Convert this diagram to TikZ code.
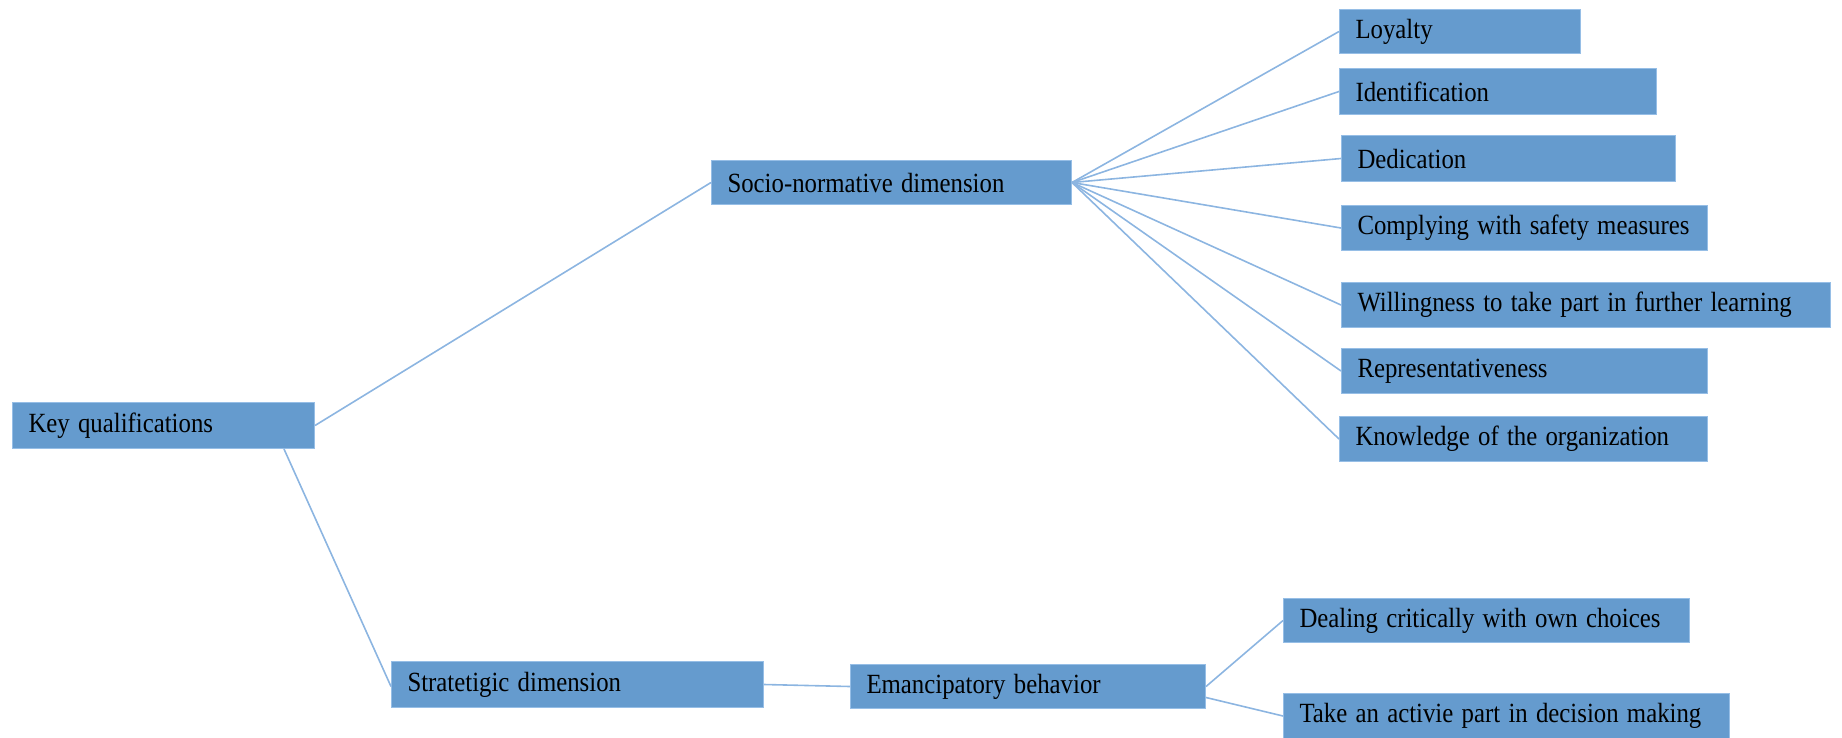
\documentclass[tikz,border=0pt]{standalone}
\usepackage{graphicx}
\usepackage{fontspec}
\setmainfont{Liberation Serif}
\definecolor{boxfill}{RGB}{101,155,206}
\definecolor{boxedge}{RGB}{150,190,230}
\definecolor{linkcol}{RGB}{140,181,225}
\newcommand{\tallText}[1]{\scalebox{1}[1.12]{#1}}
\begin{document}
\begin{tikzpicture}[x=1pt,y=-1pt,
  box/.style={draw=boxedge, line width=1pt, fill=boxfill, anchor=north west,
    inner xsep=16pt, inner ysep=0pt, align=left,
    font=\fontsize{24.8}{30}\selectfont},
  link/.style={draw=linkcol, line width=1.6pt}]
\useasboundingbox (0,0) rectangle (1842,737);
% box(name, left, top, width, height, text)
\newcommand{\bx}[6]{\node[box, minimum height=#5pt, text width=#4pt-32pt] (#1) at (#2,#3) {\tallText{#6}};}
\bx{kq}{12}{402}{302}{46}{Key qualifications}
\bx{socio}{711}{160}{360}{44}{Socio-normative dimension}
\bx{loy}{1339}{9}{241}{44}{Loyalty}
\bx{ident}{1339}{68}{317}{46}{Identification}
\bx{dedic}{1341}{135}{334}{46}{Dedication}
\bx{comply}{1341}{205}{366}{45}{Complying with safety measures}
\bx{will}{1341}{282}{489}{45}{Willingness to take part in further learning}
\bx{repr}{1341}{348}{366}{45}{Representativeness}
\bx{know}{1339}{416}{368}{45}{Knowledge of the organization}
\bx{strat}{391}{661}{372}{46}{Stratetigic dimension}
\bx{emanc}{850}{664}{355}{44}{Emancipatory behavior}
\bx{deal}{1283}{598}{406}{44}{Dealing critically with own choices}
\bx{take}{1283}{693}{446}{45}{Take an activie part in decision making}
% connectors
\draw[link] (kq.east) -- (socio.west);
\draw[link] ([xshift=-31pt]kq.south east) -- ([yshift=-2pt]strat.west);
\foreach \c in {loy,ident,dedic,comply,will,repr,know}
  \draw[link] (socio.east) -- (\c.west);
\draw[link] (strat.east) -- (emanc.west);
\draw[link] (emanc.east) -- (deal.west);
\draw[link] ([yshift=-11pt]emanc.east) -- (take.west);
\end{tikzpicture}
\end{document}
